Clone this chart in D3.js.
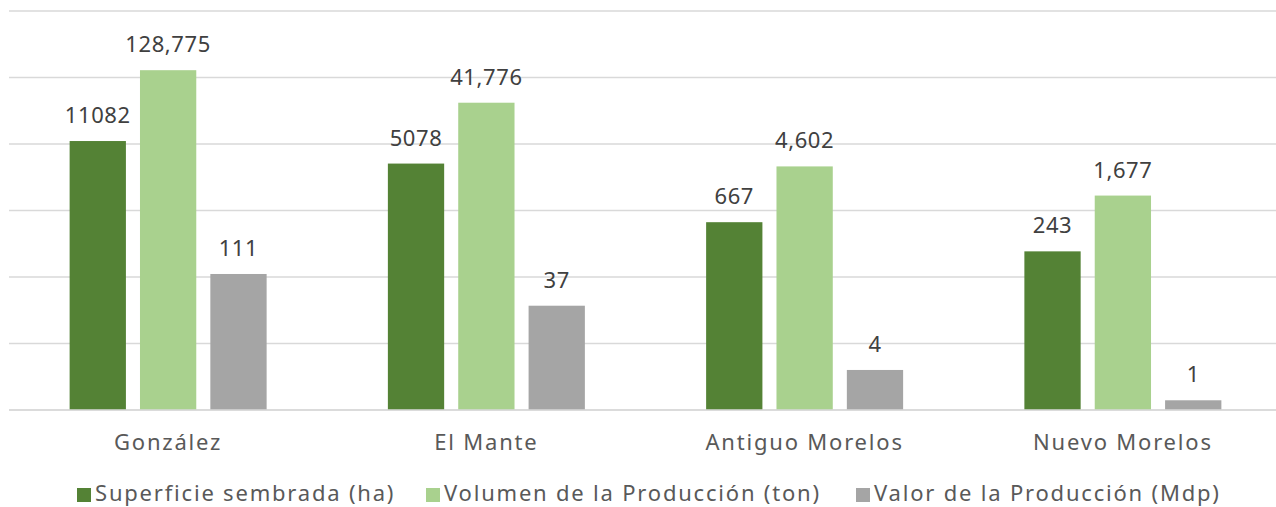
<!DOCTYPE html>
<html>
  <head>
    <meta charset="utf-8">
    <script src="https://cdn.jsdelivr.net/npm/d3@7"></script>
    <style>
      body { margin: 0; background: #fff; }
      text { font-family: "Noto Sans", sans-serif; }
    </style>
  </head>
  <body>
    <svg width="1276" height="507" id="mainsvg"></svg>
    <script>
        const municipios = ['González', 'El Mante', 'Antiguo Morelos', 'Nuevo Morelos'];
        const series = ['Superficie sembrada (ha)', 'Volumen de la Producción (ton)', 'Valor de la Producción (Mdp)'];
        const superficie = [11082, 5078, 667, 243];
        const volumen = [128775, 41776, 4602, 1677];
        const valor = [111, 37, 4, 1.4];
        const colores = ['#548235', '#a9d18e', '#a5a5a5'];
        const yTicks = [1, 10, 100, 1000, 10000, 100000, 1000000];

        const svg = d3.select('#mainsvg');
        const margin = {top: 11, right: -6, bottom: 97, left: 9};
        const width = +svg.attr('width');
        const height = +svg.attr('height');
        const innerWidth = width - margin.left - margin.right;
        const innerHeight = height - margin.top - margin.bottom;

        const valores = [superficie, volumen, valor];
        const formatos = [d3.format('d'), d3.format(',.0f'), d3.format(',.0f')];

        const g = svg.append('g').attr('transform', `translate(${margin.left}, ${margin.top})`);

        const x0 = d3.scaleBand().domain(municipios).range([0, innerWidth]);
        const half = 98.5;
        const x1 = d3.scaleBand().domain(series)
          .range([x0.bandwidth()/2 - half, x0.bandwidth()/2 + half])
          .paddingInner(0.2);
        const y = d3.scaleLog().domain([1, 1000000]).range([innerHeight, 0]);

        // gridlines
        g.selectAll('.grid').data(yTicks).join('line')
          .attr('x1', 0).attr('x2', innerWidth)
          .attr('y1', d => y(d)).attr('y2', d => y(d))
          .attr('stroke', '#d9d9d9').attr('stroke-width', 1.5);

        series.forEach((s, i) => {
          const data = municipios.map((m, j) => ({m, v: valores[i][j]}));
          g.selectAll('.bar' + i).data(data).join('rect')
            .attr('x', d => x0(d.m) + x1(s))
            .attr('width', x1.bandwidth())
            .attr('y', d => y(d.v))
            .attr('height', d => innerHeight - y(d.v))
            .attr('fill', colores[i]);
          g.selectAll('.lbl' + i).data(data).join('text')
            .attr('x', d => x0(d.m) + x1(s) + x1.bandwidth()/2)
            .attr('y', d => y(d.v) - 18)
            .attr('text-anchor', 'middle')
            .attr('font-size', 22)
            .attr('letter-spacing', 0.6)
            .attr('fill', '#404040')
            .text(d => formatos[i](d.v));
        });

        // baseline
        g.append('line').attr('x1', 0).attr('x2', innerWidth)
          .attr('y1', innerHeight).attr('y2', innerHeight)
          .attr('stroke', '#d9d9d9').attr('stroke-width', 1.5);

        const xAxis = d3.axisBottom(x0).tickSize(0).tickPadding(24);
        const ax = g.append('g').attr('transform', `translate(0, ${innerHeight})`).call(xAxis);
        ax.select('.domain').remove();
        ax.selectAll('text').attr('font-size', 22).attr('fill', '#595959')
          .attr('letter-spacing', 1.8)
          .attr('font-family', '"Noto Sans", sans-serif');

        // legend
        const legendX = [77, 426, 856];
        const legend = svg.append('g');
        series.forEach((s, i) => {
          legend.append('rect').attr('x', legendX[i]).attr('y', 488)
            .attr('width', 14).attr('height', 14).attr('fill', colores[i]);
          legend.append('text').attr('x', legendX[i] + 18).attr('y', 501)
            .attr('font-size', 22).attr('letter-spacing', 1.8)
            .attr('fill', '#595959').text(s);
        });
    </script>
  </body>
</html>
